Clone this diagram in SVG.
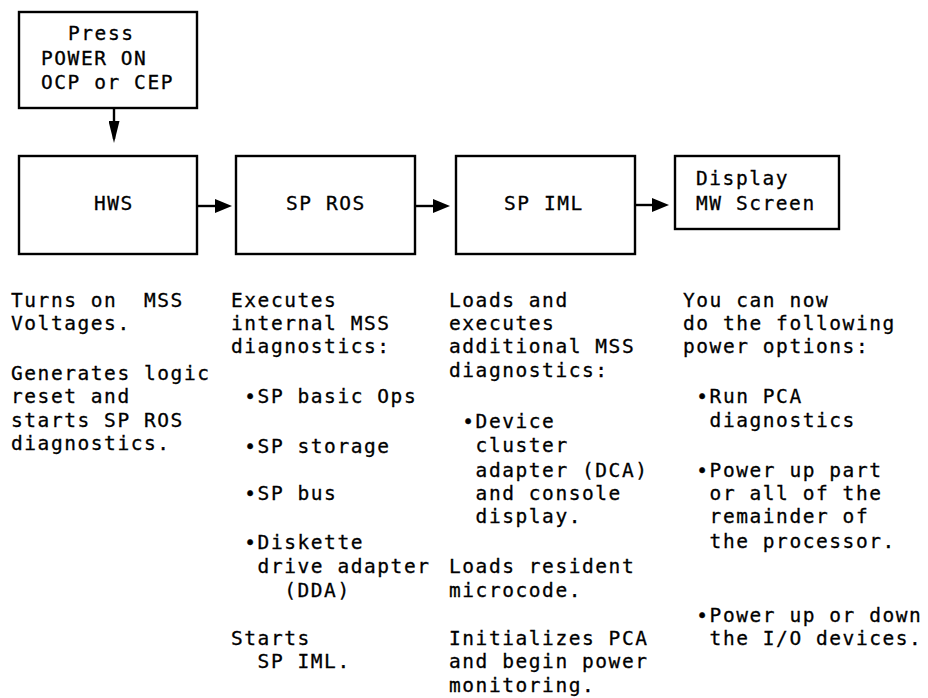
<svg xmlns="http://www.w3.org/2000/svg" width="928" height="698" viewBox="0 0 928 698">
<style>
  rect.box { fill: #fff; stroke: #000; stroke-width: 2.4; }
  text { font-family: "DejaVu Sans Mono", "Liberation Mono", monospace; font-size: 19.5px; letter-spacing: 1.56px; fill: #000; stroke: #000; stroke-width: 0.3; white-space: pre; }
  .conn line { stroke: #000; stroke-width: 2.4; }
</style>
<defs>
  <marker id="ah" markerUnits="userSpaceOnUse" markerWidth="18" markerHeight="14" refX="12" refY="7" orient="auto">
    <path d="M0,0 L17,7 L0,14 Z" fill="#000"/>
  </marker>
  <marker id="ahd" markerUnits="userSpaceOnUse" markerWidth="23" markerHeight="11" refX="18" refY="5.5" orient="auto">
    <path d="M0,0 L22,5.5 L0,11 Z" fill="#000"/>
  </marker>
</defs>
<rect width="928" height="698" fill="#fff"/>

<g id="press">
  <rect class="box" x="19" y="12" width="178" height="96"/>
  <text x="68" y="40">Press</text>
  <text x="41" y="65">POWER ON</text>
  <text x="41" y="89">OCP or CEP</text>
</g>
<g id="hws">
  <rect class="box" x="19" y="156" width="178" height="98"/>
  <text x="94" y="210">HWS</text>
</g>
<g id="sp-ros">
  <rect class="box" x="236" y="156" width="179" height="98"/>
  <text x="286" y="210">SP ROS</text>
</g>
<g id="sp-iml">
  <rect class="box" x="456" y="156" width="179" height="98"/>
  <text x="504" y="210">SP IML</text>
</g>
<g id="display">
  <rect class="box" x="675" y="156" width="164" height="73"/>
  <text x="696" y="185">Display</text>
  <text x="696" y="210">MW Screen</text>
</g>

<g class="conn" id="connectors">
  <line x1="114" y1="108" x2="114" y2="139" marker-end="url(#ahd)"/>
  <line x1="197" y1="206" x2="227" y2="206" marker-end="url(#ah)"/>
  <line x1="415" y1="206" x2="445" y2="206" marker-end="url(#ah)"/>
  <line x1="635" y1="205" x2="664" y2="205" marker-end="url(#ah)"/>
</g>

<g id="notes-hws">
  <text x="11" y="307">Turns on  MSS</text>
  <text x="11" y="330">Voltages.</text>
  <text x="11" y="380">Generates logic</text>
  <text x="11" y="403">reset and</text>
  <text x="11" y="427">starts SP ROS</text>
  <text x="11" y="450">diagnostics.</text>
</g>
<g id="notes-sp-ros">
  <text x="231" y="307">Executes</text>
  <text x="231" y="330">internal MSS</text>
  <text x="231" y="353">diagnostics:</text>
  <text x="244.3" y="403">•SP basic Ops</text>
  <text x="244.3" y="453">•SP storage</text>
  <text x="244.3" y="500">•SP bus</text>
  <text x="244.3" y="549">•Diskette</text>
  <text x="257.6" y="573">drive adapter</text>
  <text x="284.2" y="597">(DDA)</text>
  <text x="231" y="645">Starts</text>
  <text x="257.6" y="668">SP IML.</text>
</g>
<g id="notes-sp-iml">
  <text x="449" y="307">Loads and</text>
  <text x="449" y="330">executes</text>
  <text x="449" y="353">additional MSS</text>
  <text x="449" y="377">diagnostics:</text>
  <text x="462.3" y="428">•Device</text>
  <text x="475.6" y="452">cluster</text>
  <text x="475.6" y="477">adapter (DCA)</text>
  <text x="475.6" y="500">and console</text>
  <text x="475.6" y="523">display.</text>
  <text x="449" y="573">Loads resident</text>
  <text x="449" y="597">microcode.</text>
  <text x="449" y="645">Initializes PCA</text>
  <text x="449" y="668">and begin power</text>
  <text x="449" y="692">monitoring.</text>
</g>
<g id="notes-display">
  <text x="683" y="307">You can now</text>
  <text x="683" y="330">do the following</text>
  <text x="683" y="353">power options:</text>
  <text x="696.3" y="403">•Run PCA</text>
  <text x="709.6" y="427">diagnostics</text>
  <text x="696.3" y="477">•Power up part</text>
  <text x="709.6" y="500">or all of the</text>
  <text x="709.6" y="523">remainder of</text>
  <text x="709.6" y="548">the processor.</text>
  <text x="696.3" y="622">•Power up or down</text>
  <text x="709.6" y="645">the I/O devices.</text>
</g>
</svg>
